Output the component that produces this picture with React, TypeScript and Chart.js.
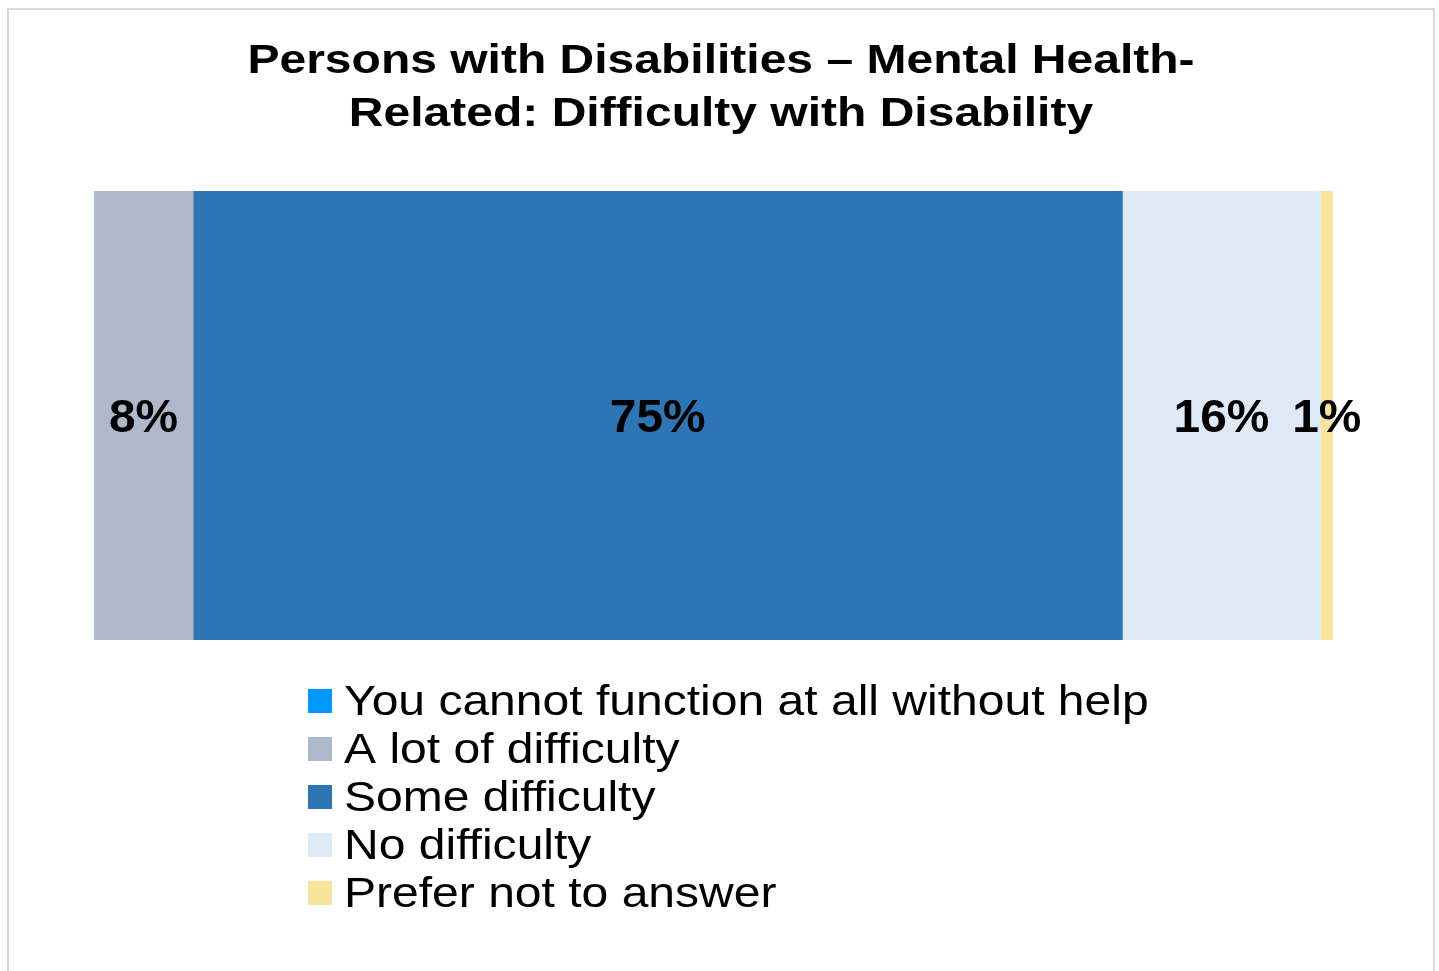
import React, { useEffect, useRef } from "react";
import { Chart, registerables } from "chart.js";

Chart.register(...registerables);

const titleLines = ["Persons with Disabilities – Mental Health-", "Related: Difficulty with Disability"];
const categories = ["Mental Health-Related"];
const seriesNames = [
  "You cannot function at all without help",
  "A lot of difficulty",
  "Some difficulty",
  "No difficulty",
  "Prefer not to answer",
];
const seriesValues = [0, 8, 75, 16, 1];
const seriesColors = ["#0099ff", "#adb9ca", "#2e75b6", "#ddeaf6", "#f7e59b"];

const FONT = "'Liberation Sans', Arial, Helvetica, sans-serif";

function stretchedText(ctx: any, text: string, x: number, y: number, sx: number, align: string) {
  ctx.save();
  ctx.translate(x, y);
  ctx.scale(sx, 1);
  ctx.textAlign = align;
  ctx.fillText(text, 0, 0);
  ctx.restore();
}

const titlePlugin = {
  id: "customTitle",
  afterDraw(chart: any) {
    const ctx = chart.ctx;
    ctx.save();
    ctx.font = `bold 41px ${FONT}`;
    ctx.fillStyle = "#000000";
    ctx.textBaseline = "middle";
    const cx = chart.width / 2;
    titleLines.forEach((line, i) => {
      stretchedText(ctx, line, cx, 52 + i * 53, 1.171, "center");
    });
    ctx.restore();
  },
};

const dataLabelPlugin = {
  id: "dataLabels",
  afterDatasetsDraw(chart: any) {
    const ctx = chart.ctx;
    ctx.save();
    ctx.font = `bold 46px ${FONT}`;
    ctx.fillStyle = "#000000";
    ctx.textBaseline = "middle";
    chart.data.datasets.forEach((ds: any, i: number) => {
      const meta = chart.getDatasetMeta(i);
      meta.data.forEach((el: any, j: number) => {
        const v = ds.data[j];
        if (!v) return;
        const cx = (el.x + el.base) / 2;
        stretchedText(ctx, `${v}%`, cx, el.y + 3.5, 1.04, "center");
      });
    });
    ctx.restore();
  },
};

const customLegendPlugin = {
  id: "customLegend",
  afterDraw(chart: any) {
    const ctx = chart.ctx;
    ctx.save();
    const boxX = 299;
    const firstTop = 679;
    const step = 48;
    const box = 24;
    ctx.font = `43px ${FONT}`;
    ctx.textBaseline = "middle";
    chart.data.datasets.forEach((ds: any, i: number) => {
      const top = firstTop + i * step;
      ctx.fillStyle = seriesColors[i];
      ctx.fillRect(boxX, top, box, box);
      ctx.fillStyle = "#000000";
      stretchedText(ctx, ds.label, boxX + box + 12, top + box / 2 + 2, 1.117, "left");
    });
    ctx.restore();
  },
};

export default function App() {
  const canvasRef = useRef<HTMLCanvasElement | null>(null);

  useEffect(() => {
    if (!canvasRef.current) return;
    const chart = new Chart(canvasRef.current, {
      type: "bar",
      data: {
        labels: categories,
        datasets: seriesNames.map((name, i) => ({
          label: name,
          data: [seriesValues[i]],
          backgroundColor: seriesValues[i] === 0 ? "rgba(0,0,0,0)" : seriesColors[i],
          borderWidth: 0,
          barPercentage: 1,
          categoryPercentage: 1,
        })),
      },
      options: {
        indexAxis: "y",
        responsive: false,
        animation: false,
        devicePixelRatio: 1,
        layout: { padding: { left: 85, right: 100, top: 181, bottom: 346 } },
        scales: {
          x: { stacked: true, min: 0, max: 100, display: false },
          y: { stacked: true, display: false },
        },
        plugins: {
          legend: { display: false },
          tooltip: { enabled: false },
          title: { display: false },
        },
      } as any,
      plugins: [dataLabelPlugin, customLegendPlugin, titlePlugin],
    });
    return () => chart.destroy();
  }, []);

  return (
    <div
      style={{
        position: "fixed",
        left: 7,
        top: 8,
        width: 1428,
        height: 980,
        boxSizing: "border-box",
        border: "2px solid #d9d9d9",
        background: "#ffffff",
      }}
    >
      <canvas ref={canvasRef} width={1424} height={976} style={{ display: "block" }} />
    </div>
  );
}
